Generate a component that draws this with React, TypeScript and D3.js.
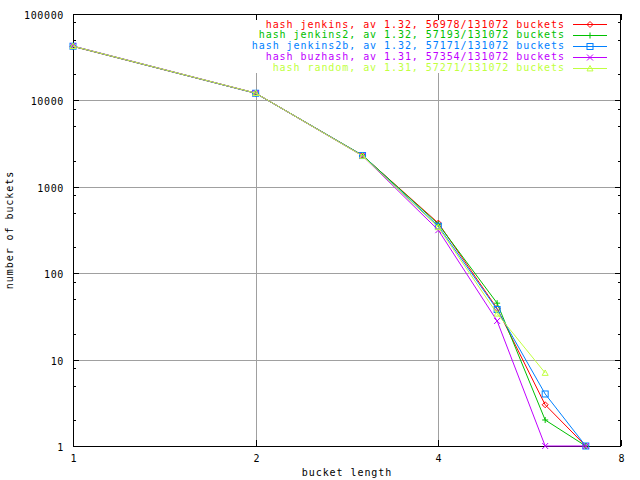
import React from "react";
import * as d3 from "d3";

const bucketLengths = [1, 2, 3, 4, 5, 6, 7];
const seriesNames = [
  "hash jenkins, av 1.32, 56978/131072 buckets",
  "hash jenkins2, av 1.32, 57193/131072 buckets",
  "hash jenkins2b, av 1.32, 57171/131072 buckets",
  "hash buzhash, av 1.31, 57354/131072 buckets",
  "hash random, av 1.31, 57271/131072 buckets",
];
const jenkins = [42150, 12100, 2305, 380, 39, 3, 1];
const jenkins2 = [42355, 12100, 2320, 370, 45, 2, 1];
const jenkins2b = [42379, 12100, 2300, 350, 38, 4, 1];
const buzhash = [42579, 12150, 2280, 315, 28, 1, 1];
const random = [42460, 12150, 2280, 340, 34, 7];
const seriesValues = [jenkins, jenkins2, jenkins2b, buzhash, random];
const colors = ["#ff0000", "#00c000", "#0080ff", "#c000ff", "#c0ff40"];
const markers = ["diamond", "plus", "square", "cross", "triangle"];
const xTicks = [1, 2, 4, 8];
const yTicks = [1, 10, 100, 1000, 10000, 100000];
const yMinorMult = [2, 5, 8];

const W = 640, H = 480;
const L = 73, R = 621, T = 14, B = 446;
const FONT = "'DejaVu Sans Mono', 'Liberation Mono', monospace";

function Marker({ type, x, y, color }: { type: string; x: number; y: number; color: string }) {
  const s = 3;
  const p = { stroke: color, strokeWidth: 1, fill: "none" } as any;
  if (type === "diamond") return <path d={`M${x},${y - s}L${x + s},${y}L${x},${y + s}L${x - s},${y}Z`} {...p} />;
  if (type === "plus") return <path d={`M${x - s},${y}H${x + s}M${x},${y - s}V${y + s}`} {...p} />;
  if (type === "square") return <rect x={x - s} y={y - s} width={2 * s} height={2 * s} {...p} />;
  if (type === "cross") return <path d={`M${x - s},${y - s}L${x + s},${y + s}M${x - s},${y + s}L${x + s},${y - s}`} {...p} />;
  return <path d={`M${x},${y - s}L${x + s},${y + s * 0.8}L${x - s},${y + s * 0.8}Z`} {...p} />;
}

export default function App() {
  const x = d3.scaleLog().base(2).domain([1, 8]).range([L, R]);
  const y = d3.scaleLog().domain([1, 100000]).range([B, T]);
  const line = d3.line<number>();

  const minor: number[] = [];
  for (let d = 1; d < 100000; d *= 10) yMinorMult.forEach((m) => minor.push(d * m));

  return (
    <svg width={W} height={H} style={{ position: "absolute", left: 0, top: 0, background: "#fff" }}
      fontFamily={FONT} fontSize={10}>
      <rect x={0} y={0} width={W} height={H} fill="#fff" />
      {/* grid */}
      {xTicks.slice(1, -1).map((t) => (
        <line key={"gx" + t} x1={Math.round(x(t)) + 0.5} x2={Math.round(x(t)) + 0.5} y1={T} y2={B} stroke="#a0a0a0" />
      ))}
      {yTicks.slice(1, -1).map((t) => (
        <line key={"gy" + t} x1={L} x2={R} y1={Math.round(y(t)) + 0.5} y2={Math.round(y(t)) + 0.5} stroke="#a0a0a0" />
      ))}
      {/* legend background hides grid */}
      <rect x={249} y={18} width={R - 249 - 1} height={55} fill="#fff" />
      {/* ticks */}
      {yTicks.map((t) => {
        const yy = Math.round(y(t)) + 0.5;
        return (
          <g key={"yt" + t}>
            <line x1={L} x2={L + 6} y1={yy} y2={yy} stroke="#000" />
            <line x1={R - 6} x2={R} y1={yy} y2={yy} stroke="#000" />
            <text x={64} y={yy + 4} textAnchor="end" fill="#000" letterSpacing={0.65}>{t}</text>
          </g>
        );
      })}
      {minor.map((t) => {
        const yy = Math.round(y(t)) + 0.5;
        return (
          <g key={"ym" + t}>
            <line x1={L} x2={L + 3} y1={yy} y2={yy} stroke="#000" />
            <line x1={R - 3} x2={R} y1={yy} y2={yy} stroke="#000" />
          </g>
        );
      })}
      {xTicks.map((t) => {
        const xx = Math.round(x(t)) + 0.5;
        return (
          <g key={"xt" + t}>
            <line x1={xx} x2={xx} y1={B} y2={B - 6} stroke="#000" />
            <line x1={xx} x2={xx} y1={T} y2={T + 6} stroke="#000" />
            <text x={xx} y={B + 16} textAnchor="middle" fill="#000">{t}</text>
          </g>
        );
      })}
      {/* border */}
      <rect x={L + 0.5} y={T + 0.5} width={R - L - 1} height={B - T} fill="none" stroke="#000" />
      {/* data */}
      {seriesValues.map((vals, i) => {
        const pts = vals.map((v, j) => [x(bucketLengths[j]), y(v)] as [number, number]);
        return (
          <g key={"s" + i}>
            <path d={line(pts) || ""} fill="none" stroke={colors[i]} strokeWidth={1} />
            {pts.map((p, j) => (
              <Marker key={j} type={markers[i]} x={p[0]} y={p[1]} color={colors[i]} />
            ))}
          </g>
        );
      })}
      {/* legend */}
      {seriesNames.map((n, i) => {
        const cy = 24 + i * 10.9;
        return (
          <g key={"l" + i}>
            <text x={565} y={cy + 3.5} textAnchor="end" fill={colors[i]} letterSpacing={0.94}>{n}</text>
            <line x1={573} x2={607} y1={Math.round(cy) + 0.5} y2={Math.round(cy) + 0.5} stroke={colors[i]} />
            <Marker type={markers[i]} x={590} y={Math.round(cy) + 0.5} color={colors[i]} />
          </g>
        );
      })}
      {/* axis labels */}
      <text x={(L + R) / 2} y={476} textAnchor="middle" fill="#000" letterSpacing={0.94}>bucket length</text>
      <text transform={`translate(13,${(T + B) / 2}) rotate(-90)`} textAnchor="middle" fill="#000" letterSpacing={0.94}>number of buckets</text>
    </svg>
  );
}
